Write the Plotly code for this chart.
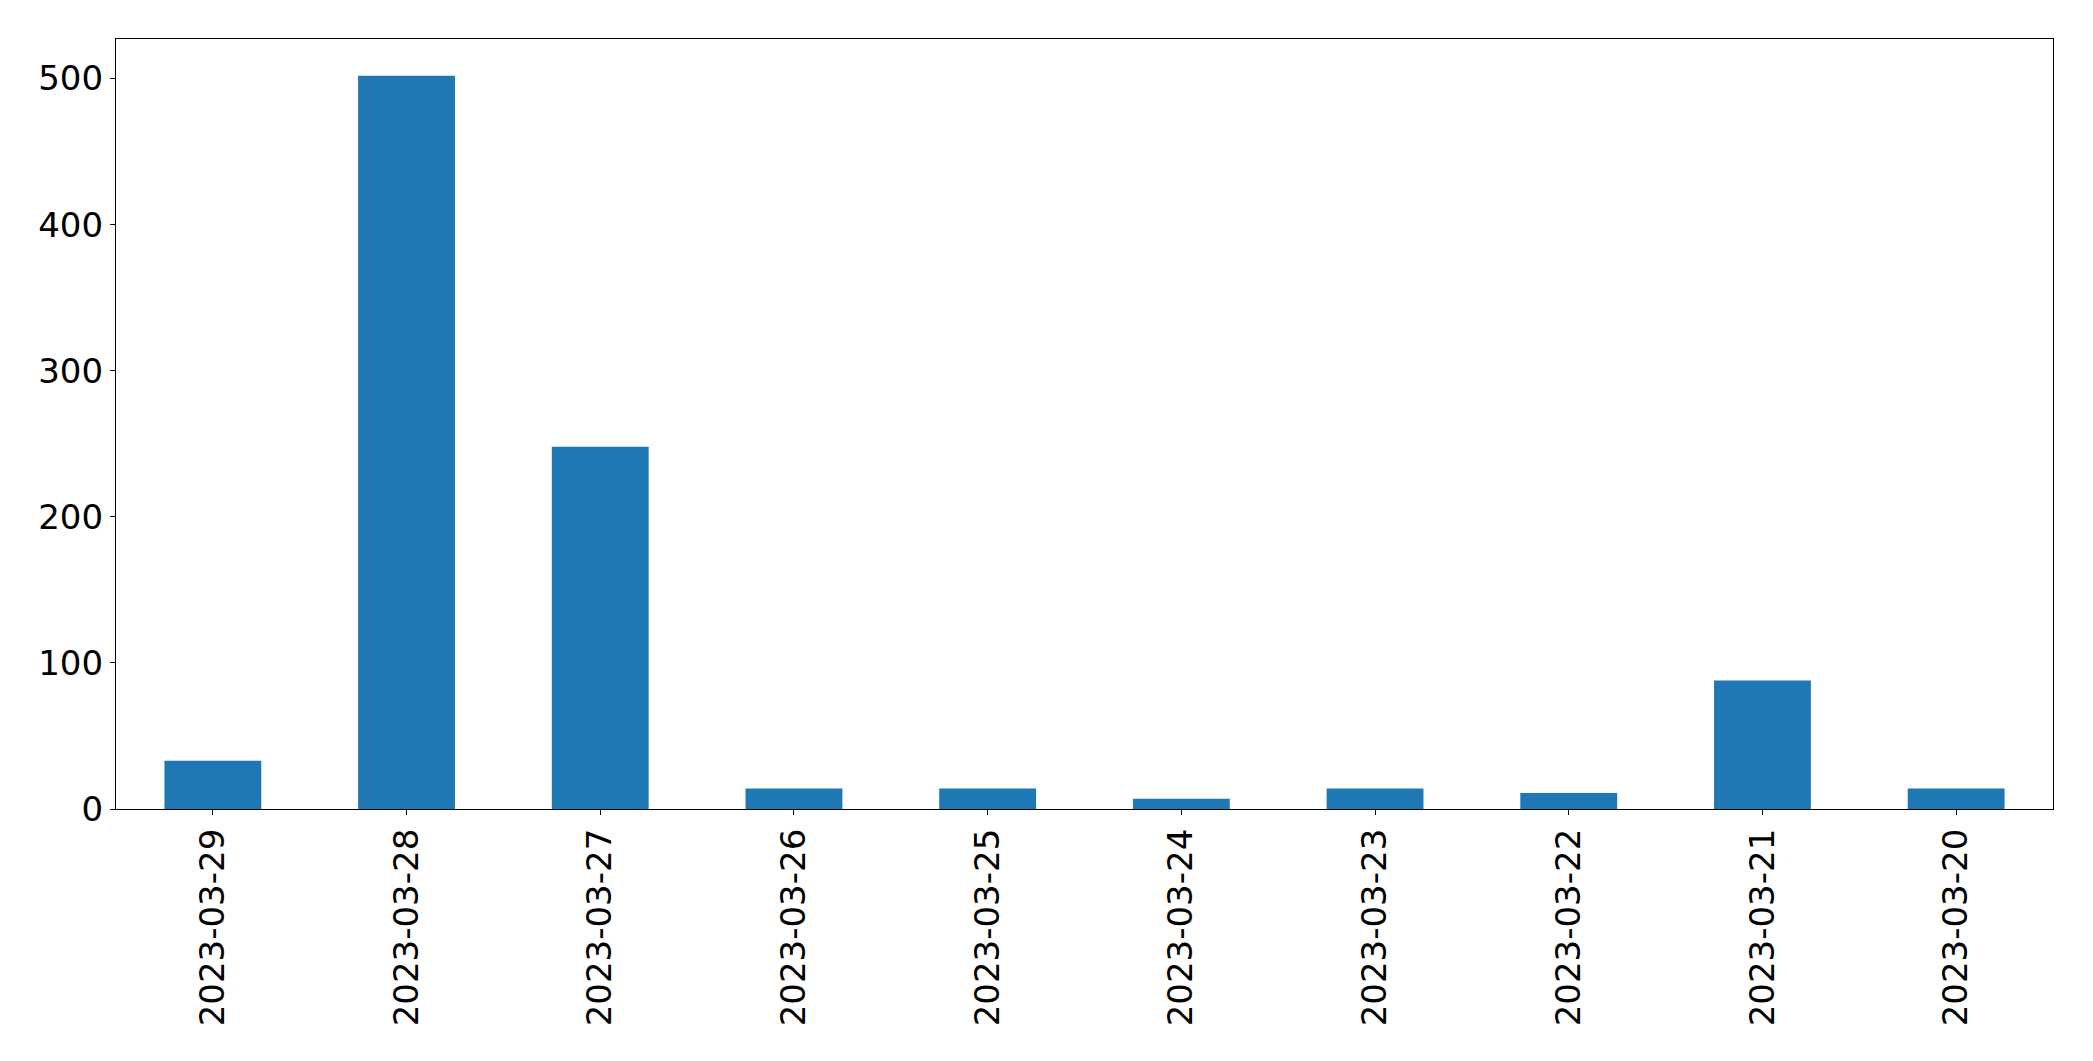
import plotly.graph_objects as go

dates = ["2023-03-29", "2023-03-28", "2023-03-27", "2023-03-26", "2023-03-25",
         "2023-03-24", "2023-03-23", "2023-03-22", "2023-03-21", "2023-03-20"]
counts = [33, 502, 248, 14, 14, 7, 14, 11, 88, 14]
y_ticks = [0, 100, 200, 300, 400, 500]

fig = go.Figure(go.Bar(x=list(range(len(dates))), y=counts, width=0.5,
                       marker=dict(color="#1f77b4", line=dict(width=0))))

font = dict(family="DejaVu Sans", size=34, color="black")
fig.update_layout(
    width=2093, height=1061,
    margin=dict(l=116, r=40, t=39, b=252, autoexpand=False),
    paper_bgcolor="white", plot_bgcolor="white",
    showlegend=False,
    xaxis=dict(range=[-0.5, len(dates) - 0.5], tickmode="array",
               tickvals=list(range(len(dates))), ticktext=dates,
               tickangle=-90, ticks="outside", ticklen=5, tickwidth=1.3,
               tickcolor="black", showline=True, linecolor="black", linewidth=1.3,
               mirror=True, showgrid=False, zeroline=False, tickfont=font,
               automargin=False, ticklabelstandoff=0),
    yaxis=dict(range=[0, 527.1], tickmode="array", tickvals=y_ticks,
               ticks="outside", ticklen=5, tickwidth=1.3, tickcolor="black",
               showline=True, linecolor="black", linewidth=1.3, mirror=True,
               showgrid=False, zeroline=False, tickfont=font, automargin=False,
               ticklabelstandoff=0),
)
fig.write_html("out.html", config={"displayModeBar": False},
               post_script="document.body.style.margin='0';document.body.style.overflow='hidden';")
